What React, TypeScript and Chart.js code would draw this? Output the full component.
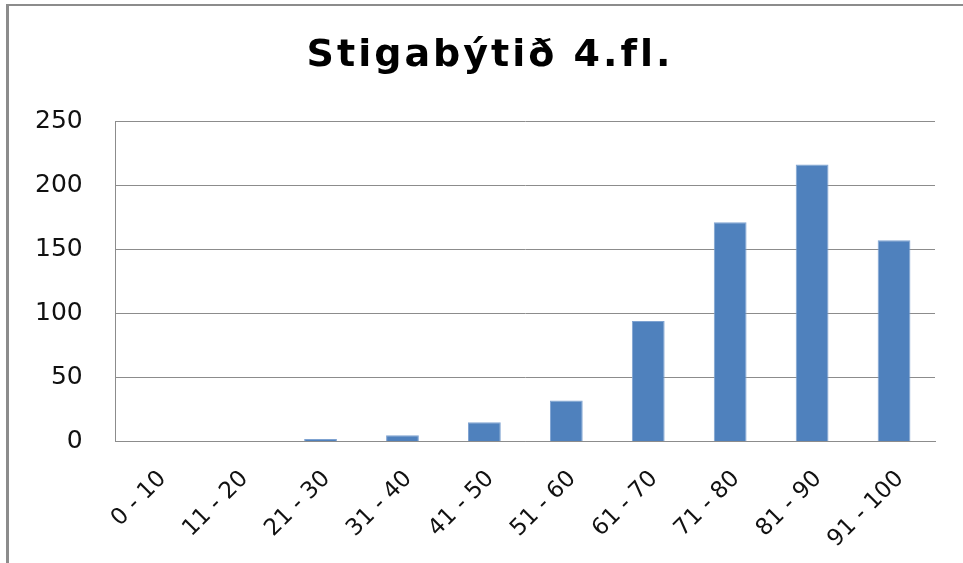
import React, { useEffect, useRef } from "react";
import { Chart, registerables } from "chart.js";

Chart.register(...registerables);

const categories = ["0 - 10", "11 - 20", "21 - 30", "31 - 40", "41 - 50", "51 - 60", "61 - 70", "71 - 80", "81 - 90", "91 - 100"];
const values = [0, 0, 2, 5, 15, 32, 94, 171, 216, 157];
const titleText = "Stigabýtið 4.fl.";
const yMax = 250;
const yStep = 50;

const spacedTitle = {
  id: "spacedTitle",
  afterDraw(chart: any) {
    const ctx = chart.ctx as CanvasRenderingContext2D;
    ctx.save();
    (ctx as any).letterSpacing = "3px";
    ctx.font = "bold 38px 'DejaVu Sans'";
    ctx.fillStyle = "#000";
    ctx.textAlign = "left";
    ctx.textBaseline = "alphabetic";
    const w = ctx.measureText(titleText).width;
    ctx.fillText(titleText, 481 - w / 2, 60);
    ctx.restore();
  },
};

export default function App() {
  const ref = useRef<HTMLCanvasElement | null>(null);
  useEffect(() => {
    if (!ref.current) return;
    const chart = new Chart(ref.current, {
      type: "bar",
      data: {
        labels: categories,
        datasets: [
          {
            data: values,
            backgroundColor: "#4F81BD",
            borderColor: "#7fa3d1",
            borderWidth: 1,
            barPercentage: 0.4,
            categoryPercentage: 1,
          },
        ],
      },
      plugins: [spacedTitle],
      options: {
        responsive: false,
        animation: false,
        layout: { padding: { left: -7, right: 28, top: 115, bottom: -14 } },
        plugins: {
          legend: { display: false },
          tooltip: { enabled: false },
          title: { display: false },
        },
        scales: {
          x: {
            grid: { display: false, drawTicks: false },
            border: { display: true, color: "#8c8c8c", width: 1 },
            ticks: {
              minRotation: 45,
              maxRotation: 45,
              padding: 24,
              labelOffset: 6,
              color: "#111",
              font: { family: "DejaVu Sans", size: 23 },
            },
          },
          y: {
            min: 0,
            max: yMax,
            ticks: {
              stepSize: yStep,
              padding: 33,
              color: "#111",
              font: { family: "DejaVu Sans", size: 25 },
            },
            grid: { color: "#8c8c8c", lineWidth: 1, drawTicks: false },
            border: { display: true, color: "#8c8c8c", width: 1 },
          },
        },
      },
    });
    return () => chart.destroy();
  }, []);
  return (
    <div
      style={{
        position: "fixed",
        left: 6,
        top: 4,
        width: 957,
        height: 559,
        borderLeft: "3px solid #8c8c8c",
        borderTop: "2px solid #8c8c8c",
        background: "#fff",
        boxSizing: "border-box",
      }}
    >
      <canvas ref={ref} width={954} height={557} style={{ display: "block" }} />
    </div>
  );
}
